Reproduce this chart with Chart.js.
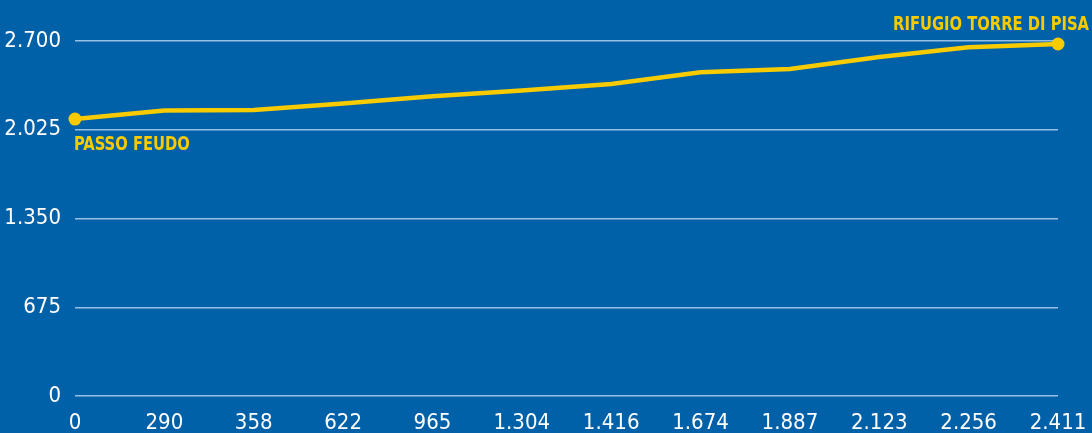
<!DOCTYPE html>
<html>
<head>
<meta charset="utf-8">
<script src="https://cdn.jsdelivr.net/npm/chart.js@4.4.1/dist/chart.umd.min.js"></script>
<style>
  html, body { margin: 0; padding: 0; background: #0060a8; }
  #wrap { width: 1092px; height: 433px; }
</style>
</head>
<body>
<div id="wrap"><canvas id="myChart"></canvas></div>
<script>
    // distanze (m) lungo il percorso
    let labels = ["0", "290", "358", "622", "965", "1.304", "1.416", "1.674", "1.887", "2.123", "2.256", "2.411"];
    // quota (m)
    let altitude = [2106, 2171, 2176, 2225, 2279, 2324, 2373, 2462, 2487, 2578, 2652, 2677];
    // tacche asse y
    let yTicks = [0, 675, 1350, 2025, 2700];
    // nomi inizio / fine
    let startName = "PASSO FEUDO";
    let endName = "RIFUGIO TORRE DI PISA";

    const yellow = "#f7cb00";
    const family = "'DejaVu Sans Condensed', 'DejaVu Sans', sans-serif";

    function fmt(v) {
        return String(v).replace(/\B(?=(\d{3})+(?!\d))/g, ".");
    }

    // etichette dei punti estremi (testo stretto in orizzontale)
    const endLabels = {
        id: 'endLabels',
        afterDatasetsDraw(chart) {
            const meta = chart.getDatasetMeta(0);
            const first = meta.data[0];
            const last = meta.data[meta.data.length - 1];
            const c = chart.ctx;
            const sx = 0.82;
            c.save();
            c.fillStyle = yellow;
            c.font = "condensed bold 20px " + family;
            c.textBaseline = "alphabetic";
            c.scale(sx, 1);
            c.textAlign = "left";
            c.fillText(startName, (first.x - 1) / sx, first.y + 31);
            c.textAlign = "right";
            c.fillText(endName, (chart.width - 3) / sx, last.y - 14);
            c.restore();
        }
    };

    let ctx = document.getElementById("myChart");
    let myChart = new Chart(ctx, {
        type: 'line',
        data: {
            labels: labels,
            datasets: [{
                data: altitude,
                borderColor: yellow,
                backgroundColor: yellow,
                borderWidth: 4.5,
                tension: 0,
                pointRadius: c => (c.dataIndex === 0 || c.dataIndex === altitude.length - 1) ? 6.5 : 0,
                pointHoverRadius: 0,
                pointBorderWidth: 0,
                clip: false
            }]
        },
        options: {
            responsive: true,
            maintainAspectRatio: false,
            animation: false,
            layout: { padding: { top: 41, right: 34, left: 0, bottom: 0 } },
            plugins: {
                legend: { display: false },
                tooltip: { enabled: false }
            },
            scales: {
                x: {
                    offset: false,
                    border: { display: false },
                    grid: { display: false, drawTicks: false },
                    ticks: {
                        color: "#ffffff",
                        font: { family: family, size: 22, style: "condensed", weight: "300" },
                        padding: 14,
                        maxRotation: 0,
                        autoSkip: false
                    },
                    afterFit: s => { s.height = 37; s.paddingLeft = 0; s.paddingRight = 0; }
                },
                y: {
                    min: 0,
                    max: 2700,
                    border: { display: false },
                    afterBuildTicks: s => { s.ticks = yTicks.map(v => ({ value: v })); },
                    grid: { color: "rgba(200,225,250,0.75)", lineWidth: 1.5, drawTicks: false },
                    ticks: {
                        color: "#ffffff",
                        font: { family: family, size: 22, style: "condensed", weight: "300" },
                        padding: 14,
                        callback: v => fmt(v)
                    },
                    afterFit: s => { s.width = 75; s.paddingTop = 0; s.paddingBottom = 0; }
                }
            }
        },
        plugins: [endLabels]
    });
</script>
</body>
</html>
